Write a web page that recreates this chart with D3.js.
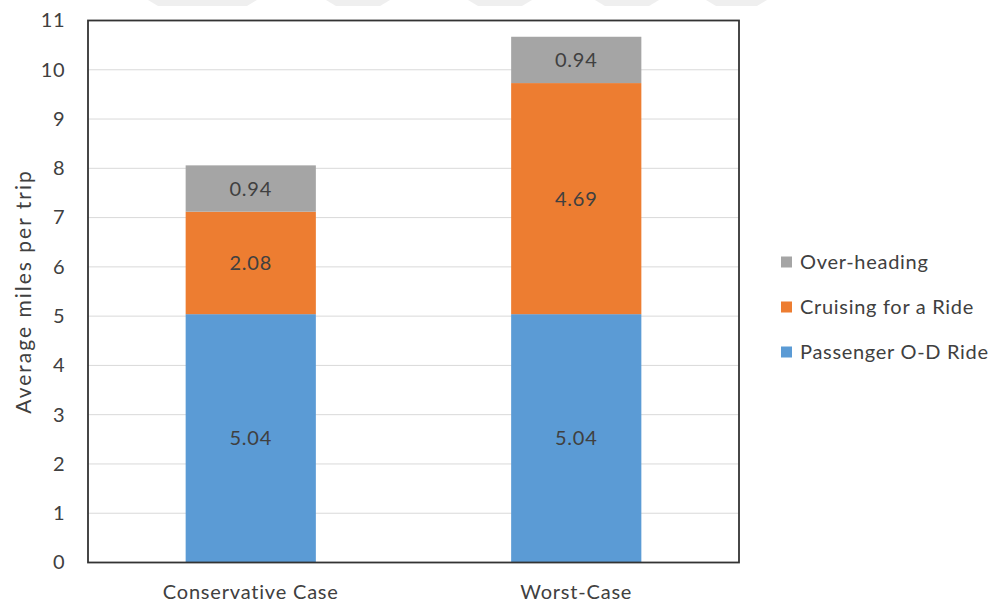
<!DOCTYPE html>
<html>
<head>
<meta charset="utf-8">
<script src="https://cdn.jsdelivr.net/npm/d3@7"></script>
<style>
  html, body { margin: 0; padding: 0; background: #fff; }
  svg { display: block; font-family: Lato, "Open Sans", sans-serif; }
</style>
</head>
<body>
<svg id="chart" width="990" height="605"></svg>
<script>
// Average miles per trip, stacked by trip component
const categories = ["Conservative Case", "Worst-Case"];
const seriesNames = ["Passenger O-D Ride", "Cruising for a Ride", "Over-heading"];
const passengerRide = [5.04, 5.04];
const cruising = [2.08, 4.69];
const overheading = [0.94, 0.94];
const yTicks = [0, 1, 2, 3, 4, 5, 6, 7, 8, 9, 10, 11];
const colors = ["#5b9bd5", "#ed7d31", "#a5a5a5"];

// faint header band shapes along the top edge
const bandSpans = [[148, 257], [326, 390], [468, 532], [595, 659], [706, 767]];

const svg = d3.select("#chart");
const margin = { left: 88, right: 251, top: 20.5, bottom: 42.5 };
const W = 990, H = 605;
const x0 = margin.left, x1 = W - margin.right;
const y0 = H - margin.bottom, y1 = margin.top;
const textColor = "#404040";

svg.append("g").selectAll("path").data(bandSpans).join("path")
  .attr("d", d => `M${d[0]},0 L${d[1]},0 L${d[1] - 10},6 L${d[0] + 10},6 Z`)
  .attr("fill", "#efefef");

const x = d3.scaleBand().domain(categories).range([x0, x1]).paddingInner(0.6).paddingOuter(0.3);
const y = d3.scaleLinear().domain([0, 11]).range([y0, y1]);

// gridlines
svg.append("g").selectAll("line").data(yTicks.filter(t => t > 0 && t < 11)).join("line")
  .attr("x1", x0).attr("x2", x1)
  .attr("y1", d => y(d)).attr("y2", d => y(d))
  .attr("stroke", "#d9d9d9").attr("stroke-width", 1);

// stacked bars
const table = categories.map((c, i) => ({
  category: c,
  "Passenger O-D Ride": passengerRide[i],
  "Cruising for a Ride": cruising[i],
  "Over-heading": overheading[i]
}));
const stacked = d3.stack().keys(seriesNames)(table);

const layers = svg.append("g").selectAll("g").data(stacked).join("g")
  .attr("fill", (d, i) => colors[i]);

layers.selectAll("rect").data(d => d).join("rect")
  .attr("x", d => x(d.data.category))
  .attr("width", x.bandwidth())
  .attr("y", d => y(d[1]))
  .attr("height", d => y(d[0]) - y(d[1]));

// value labels
layers.each(function (layer) {
  d3.select(this).selectAll("text").data(layer).join("text")
    .attr("x", d => x(d.data.category) + x.bandwidth() / 2)
    .attr("y", d => (y(d[0]) + y(d[1])) / 2)
    .attr("dy", "0.35em")
    .attr("text-anchor", "middle")
    .attr("font-size", 20)
    .attr("letter-spacing", 0.8)
    .attr("fill", textColor)
    .text(d => (d[1] - d[0]).toFixed(2));
});

// frame
svg.append("rect")
  .attr("x", x0).attr("y", y1)
  .attr("width", x1 - x0).attr("height", y0 - y1)
  .attr("fill", "none").attr("stroke", "#333").attr("stroke-width", 1.8);

// y axis tick labels
const yAxis = d3.axisLeft(y).tickValues(yTicks).tickSize(0).tickPadding(23);
const gy = svg.append("g").attr("transform", `translate(${x0},0)`).call(yAxis);
gy.select(".domain").remove();
gy.selectAll("text").attr("font-size", 20).attr("font-family", "Lato, sans-serif")
  .attr("letter-spacing", 0.5).attr("fill", textColor);

// x axis category labels
const xAxis = d3.axisBottom(x).tickSize(0).tickPadding(22);
const gx = svg.append("g").attr("transform", `translate(0,${y0})`).call(xAxis);
gx.select(".domain").remove();
gx.selectAll("text").attr("font-size", 20).attr("font-family", "Lato, sans-serif")
  .attr("letter-spacing", 0.8).attr("fill", textColor);

// y axis title
svg.append("text")
  .attr("transform", `translate(31,${(y0 + y1) / 2}) rotate(-90)`)
  .attr("text-anchor", "middle")
  .attr("font-size", 21)
  .attr("letter-spacing", 2)
  .attr("fill", textColor)
  .text("Average miles per trip");

// legend (top item is the top of the stack)
const legendItems = seriesNames.map((n, i) => ({ name: n, color: colors[i] })).reverse();
const legend = svg.append("g").attr("transform", "translate(781,262)");
const row = legend.selectAll("g").data(legendItems).join("g")
  .attr("transform", (d, i) => `translate(0,${i * 45})`);
row.append("rect").attr("x", 0).attr("y", -5.5).attr("width", 11).attr("height", 11)
  .attr("fill", d => d.color);
row.append("text").attr("x", 19).attr("dy", "0.35em")
  .attr("font-size", 20).attr("letter-spacing", 0.7).attr("fill", textColor)
  .text(d => d.name);
</script>
</body>
</html>
